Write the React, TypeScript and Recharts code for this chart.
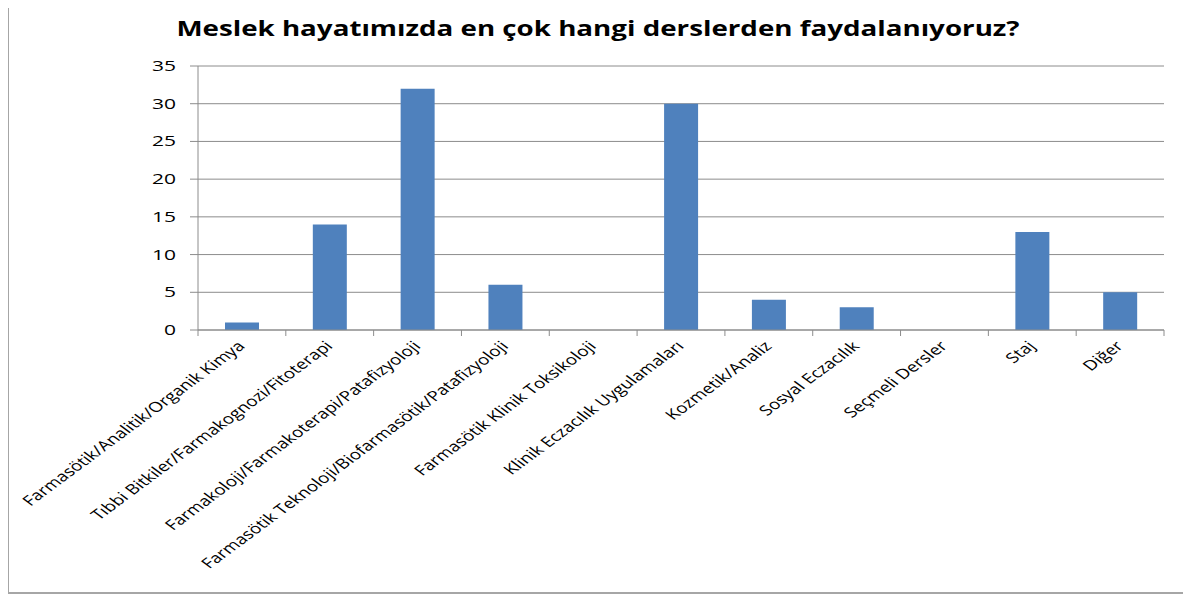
import { BarChart, Bar, XAxis, YAxis, CartesianGrid } from 'recharts';

const categories = [
  'Farmasötik/Analitik/Organik Kimya',
  'Tıbbi Bitkiler/Farmakognozi/Fitoterapi',
  'Farmakoloji/Farmakoterapi/Patafizyoloji',
  'Farmasötik Teknoloji/Biofarmasötik/Patafizyoloji',
  'Farmasötik Klinik Toksikoloji',
  'Klinik Eczacılık  Uygulamaları',
  'Kozmetik/Analiz',
  'Sosyal Eczacılık',
  'Seçmeli Dersler',
  'Staj',
  'Diğer',
];
const counts = [1, 14, 32, 6, 0, 30, 4, 3, 0, 13, 5];
const yTicks = [0, 5, 10, 15, 20, 25, 30, 35];

const TITLE = 'Meslek hayatımızda en çok hangi derslerden faydalanıyoruz?';

const data = categories.map((name, i) => ({ name, value: counts[i] }));

const W = 1183;
const H = 588;
const PLOT_LEFT = 190;
const PLOT_RIGHT = 1156;
const PLOT_TOP = 58;
const PLOT_BOTTOM = 322;
const BAND = (PLOT_RIGHT - PLOT_LEFT) / categories.length;
const AXIS = '#8c8c8c';
const FONT = '"Open Sans", sans-serif';
// the original picture is stretched sideways, so text is too
const STRETCH = 1.35;

function CategoryTick(props: any) {
  const { x, y, payload, index } = props;
  const half = BAND / 2;
  const tx = x + 4;
  const ty = y + 17;
  return (
    <g>
      <line x1={x - half} y1={y} x2={x - half} y2={y + 6} stroke={AXIS} />
      {index === categories.length - 1 && (
        <line x1={x + half} y1={y} x2={x + half} y2={y + 6} stroke={AXIS} />
      )}
      <text
        x={0}
        y={0}
        textAnchor="end"
        fontSize={14}
        fontFamily={FONT}
        fill="#000"
        transform={`translate(${tx}, ${ty}) scale(${STRETCH}, 1) rotate(-45)`}
      >
        {payload.value}
      </text>
    </g>
  );
}

function ValueTick(props: any) {
  const { x, y, payload } = props;
  return (
    <text
      x={0}
      y={0}
      dy={5}
      textAnchor="end"
      fontSize={14.5}
      fontFamily={FONT}
      fill="#000"
      transform={`translate(${x}, ${y}) scale(1.45, 1)`}
    >
      {payload.value}
    </text>
  );
}

export default function App() {
  return (
    <div style={{ position: 'relative', width: W, height: H }}>
      <div
        style={{
          position: 'absolute',
          left: -1,
          top: -8,
          width: W,
          height: 594,
          borderLeft: '2px solid #a6a6a6',
          borderBottom: '2px solid #a6a6a6',
          boxSizing: 'border-box',
        }}
      />
      <div
        style={{
          position: 'absolute',
          left: 0,
          top: 6,
          width: 1180,
          textAlign: 'center',
          fontFamily: FONT,
          fontWeight: 700,
          fontSize: 21,
          color: '#000',
          transform: 'scaleX(1.32)',
          transformOrigin: '590px 0',
        }}
      >
        {TITLE}
      </div>
      <BarChart
        width={W}
        height={H}
        data={data}
        margin={{ top: PLOT_TOP, right: W - PLOT_RIGHT, left: 0, bottom: 0 }}
      >
        <CartesianGrid vertical={false} stroke={AXIS} strokeWidth={1} />
        <XAxis
          dataKey="name"
          interval={0}
          height={H - PLOT_BOTTOM}
          tickLine={false}
          tickSize={0}
          tickMargin={0}
          axisLine={{ stroke: AXIS }}
          tick={<CategoryTick />}
        />
        <YAxis
          width={PLOT_LEFT}
          domain={[0, 35]}
          ticks={yTicks}
          interval={0}
          tickSize={8}
          tickMargin={14}
          tickLine={{ stroke: AXIS }}
          axisLine={{ stroke: AXIS }}
          tick={<ValueTick />}
        />
        <Bar dataKey="value" fill="#4f81bd" barSize={34} isAnimationActive={false} />
      </BarChart>
    </div>
  );
}
